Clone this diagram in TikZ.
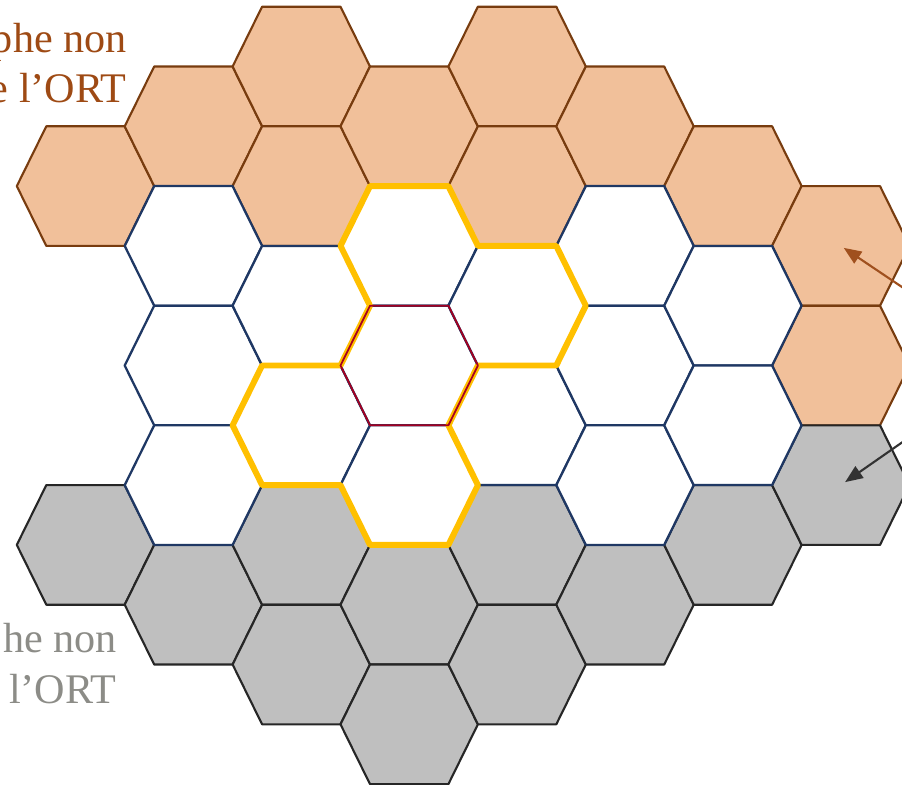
\documentclass[tikz,border=0pt]{standalone}
\usepackage{fontspec}
\setmainfont{Liberation Serif}
\usetikzlibrary{arrows.meta,calc}
\definecolor{hexpeach}{RGB}{241,192,154}
\definecolor{hexbrown}{RGB}{120,60,15}
\definecolor{hexgray}{RGB}{191,191,191}
\definecolor{hexdark}{RGB}{38,38,38}
\definecolor{hexnavy}{RGB}{31,56,100}
\definecolor{hexyellow}{RGB}{255,192,0}
\definecolor{hexred}{RGB}{165,0,33}
\definecolor{labelbrown}{RGB}{158,74,20}
\definecolor{labelgray}{RGB}{140,140,135}
\definecolor{arrowbrown}{RGB}{160,80,30}
\definecolor{arrowdark}{RGB}{50,50,50}

% one flat-topped cell around a named centre
\newcommand{\hexcell}[2]{%
    \path[#1] (#2) ++(-68.7,0) -- ++(29.5,-59.8) -- ++(78.4,0) -- ++(29.5,59.8)
        -- ++(-29.5,59.8) -- ++(-78.4,0) -- cycle;}

\begin{document}
\begin{tikzpicture}[
    x=0.02cm, y=-0.02cm,
    peachcell/.style={fill=hexpeach, draw=hexbrown, line width=1.2pt, line join=round},
    graycell/.style={fill=hexgray, draw=hexdark, line width=1.2pt, line join=round},
    whitecell/.style={fill=white, draw=hexnavy, line width=1.3pt, line join=round},
    ringline/.style={draw=hexyellow, line width=3.4pt, line join=round},
    centreline/.style={draw=hexred, line width=1pt, line join=round},
    label/.style={font=\fontsize{24}{29}\selectfont, inner sep=0pt},
    pointer/.style={-{Triangle[length=10pt, width=8pt]}, line width=1.2pt},
]
    \useasboundingbox (0,0) rectangle (902,784);
    \clip (0,0) rectangle (902,784);

    \foreach \c in {0,...,7} {
        \foreach \r in {0,...,11} {
            \coordinate (h\c-\r) at (85.5+107.9*\c, 66.5+59.8*\r);
        }
    }

    \foreach \p in {0-2, 1-1, 2-0, 2-2, 3-1, 4-0, 4-2, 5-1, 6-2, 7-3, 7-5}
        \hexcell{peachcell}{h\p};
    \foreach \p in {0-8, 1-9, 2-8, 2-10, 3-9, 3-11, 4-8, 4-10, 5-9, 6-8, 7-7}
        \hexcell{graycell}{h\p};
    \foreach \p in {1-3, 1-5, 1-7, 2-4, 2-6, 3-3, 3-5, 3-7, 4-4, 4-6, 5-3, 5-5, 5-7, 6-4, 6-6}
        \hexcell{whitecell}{h\p};

    % outline of the neighbourhood
    \draw[ringline] ($(h3-3)+(-39.2,-59.8)$) -- ($(h3-3)+(39.2,-59.8)$)
        -- ($(h4-4)+(-39.2,-59.8)$) -- ($(h4-4)+(39.2,-59.8)$) -- ($(h4-4)+(68.7,0)$)
        -- ($(h4-4)+(39.2,59.8)$) -- ($(h4-4)+(-39.2,59.8)$)
        -- ($(h3-7)+(39.2,-59.8)$) -- ($(h3-7)+(68.7,0)$) -- ($(h3-7)+(39.2,59.8)$)
        -- ($(h3-7)+(-39.2,59.8)$) -- ($(h3-7)+(-68.7,0)$)
        -- ($(h2-6)+(-39.2,59.8)$) -- ($(h2-6)+(-68.7,0)$) -- ($(h2-6)+(-39.2,-59.8)$)
        -- ($(h2-6)+(39.2,-59.8)$) -- ($(h3-3)+(-39.2,59.8)$) -- ($(h3-3)+(-68.7,0)$) -- cycle;
    \hexcell{centreline}{h3-5};

    \node[label, text=labelbrown, anchor=base east] (toplineA) at (127,53) {phe non};
    \node[label, text=labelbrown, anchor=base east] (toplineB) at (127,103) {e l’ORT};
    \node[label, text=labelgray, anchor=base east] (botlineA) at (117,652) {he non};
    \node[label, text=labelgray, anchor=base east] (botlineB) at (117,703) {l’ORT};

    \coordinate (srcpeach) at (960,326);
    \coordinate (srcgray) at (960,402);
    \draw[pointer, arrowbrown, shorten >=2pt] (srcpeach) -- (h7-3);
    \draw[pointer, arrowdark, shorten >=3pt] (srcgray) -- (h7-7);
\end{tikzpicture}
\end{document}
